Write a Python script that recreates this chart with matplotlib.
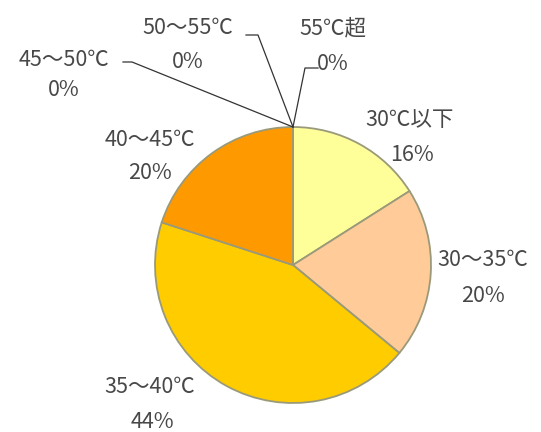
import matplotlib.pyplot as plt

plt.rcParams['font.family'] = ['Noto Sans CJK JP', 'DejaVu Sans']

labels = ['30℃以下', '30～35℃', '35～40℃', '40～45℃', '45～50℃', '50～55℃', '55℃超']
values = [16, 20, 44, 20, 0, 0, 0]
colors = ['#FFFF99', '#FFCC99', '#FFCC00', '#FF9900', '#FF6600', '#CC3300', '#993300']

# label text positions (pixel coords, y from top)
label_pos = [(410, 120), (483, 260), (150, 387), (150, 140), (64, 60), (188, 28), (333, 28)]
pct_pos = [(412, 155), (483, 296), (152, 422), (150, 173), (64, 90), (188, 62), (None, None)]

fig = plt.figure(figsize=(5.41, 4.32), dpi=100)
ax = fig.add_axes([0, 0, 1, 1])

H = 432
cx, cy, r = 293, H - 265, 138
ax.pie(values[:4], colors=colors[:4], startangle=90, counterclock=False,
       center=(cx, cy), radius=r, frame=True,
       wedgeprops=dict(edgecolor='#9a9a7a', linewidth=1.3))
ax.set_xlim(0, 541)
ax.set_ylim(0, 432)
ax.set_aspect('equal')
ax.axis('off')

tc = '#484848'
fs = 15.5
for lab, (x, y) in zip(labels, label_pos):
    ax.text(x, H - y, lab, ha='center', va='center', fontsize=fs, color=tc)
for v, (x, y) in zip(values, pct_pos):
    if x is not None:
        ax.text(x, H - y, f'{v}%', ha='center', va='center', fontsize=fs, color=tc)
ax.text(317, H - 64, f'{values[6]}%', ha='left', va='center', fontsize=fs, color=tc)

# leader lines for zero slices
top = (cx, cy + r)
lc = '#333333'
ax.plot([123, 132, top[0]], [H - 62, H - 62, top[1]], color=lc, lw=0.9)
ax.plot([246, 258, top[0]], [H - 35, H - 35, top[1]], color=lc, lw=0.9)
ax.plot([318, 305, top[0]], [H - 68, H - 68, top[1]], color=lc, lw=0.9)

fig.savefig('out.png', dpi=100)
